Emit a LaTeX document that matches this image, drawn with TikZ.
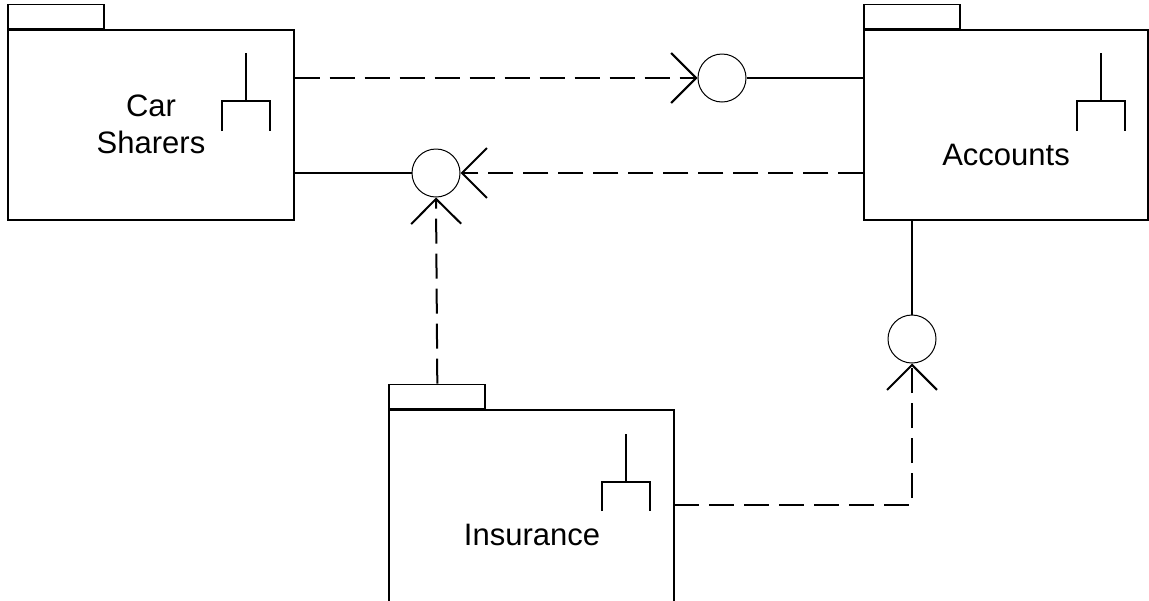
\documentclass[tikz,border=0pt]{standalone}
\usepackage{fontspec}
\setmainfont{Liberation Sans}
\usetikzlibrary{arrows.meta}
\begin{document}
\begin{tikzpicture}[x=0.5pt,y=-0.5pt,
 body/.style={draw, line width=0.6pt, inner sep=0, fill=white},
 tabbox/.style={draw, line width=0.9pt, inner sep=0, minimum width=48pt, minimum height=12pt},
 iface/.style={draw, circle, line width=0.5pt, minimum size=24pt, inner sep=0},
 conn/.style={line width=1pt},
 dep/.style={line width=1pt, dash pattern=on 12.5pt off 5pt, -{Straight Barb[length=12.5pt,width=25pt]}},
 lbl/.style={font=\fontsize{15.5pt}{18.5pt}\selectfont, align=center, inner sep=0},
 icon/.style={line width=1pt}]
\useasboundingbox (0,0) rectangle (1149,600);
\clip (0,0) rectangle (1149,600);
% packages
\node[body, minimum width=143pt, minimum height=95pt] (car) at (151,125) {};
\node[tabbox, anchor=south west] (cartab) at (car.north west) {};
\node[body, minimum width=142pt, minimum height=95pt] (acc) at (1006,125) {};
\node[tabbox, anchor=south west] (acctab) at (acc.north west) {};
\node[body, minimum width=142.5pt, minimum height=100pt] (ins) at (531.5,510) {};
\node[tabbox, anchor=south west] (instab) at (ins.north west) {};
% labels
\node[lbl] (carlbl) at (151,124) {Car\\Sharers};
\node[lbl] (acclbl) at (1006,155) {Accounts};
\node[lbl] (inslbl) at (532,535) {Insurance};
% subsystem icons
\draw[icon] (246,53) -- (246,101) (222,131) -- (222,101) -- (270,101) -- (270,131);
\draw[icon] (1101,53) -- (1101,101) (1077,131) -- (1077,101) -- (1125,101) -- (1125,131);
\draw[icon] (626,434) -- (626,482) (602,511) -- (602,482) -- (650,482) -- (650,511);
% interfaces
\node[iface] (c1) at (722,78) {};
\node[iface] (c2) at (436,173) {};
\node[iface] (c3) at (912,339) {};
% connectors
\draw[dep] (car.east |- c1) -- (c1.west);
\draw[conn] (c1.east) -- (acc.west |- c1);
\draw[dep] (acc.west |- c2) -- (c2.east);
\draw[conn] (car.east |- c2) -- (c2.west);
\draw[dep] (instab.north) -- (c2.south);
\draw[conn] (acc.south -| c3) -- (c3.north);
\coordinate (insout) at (674,505);
\draw[dep] (insout) -| (c3.south);
\end{tikzpicture}
\end{document}
